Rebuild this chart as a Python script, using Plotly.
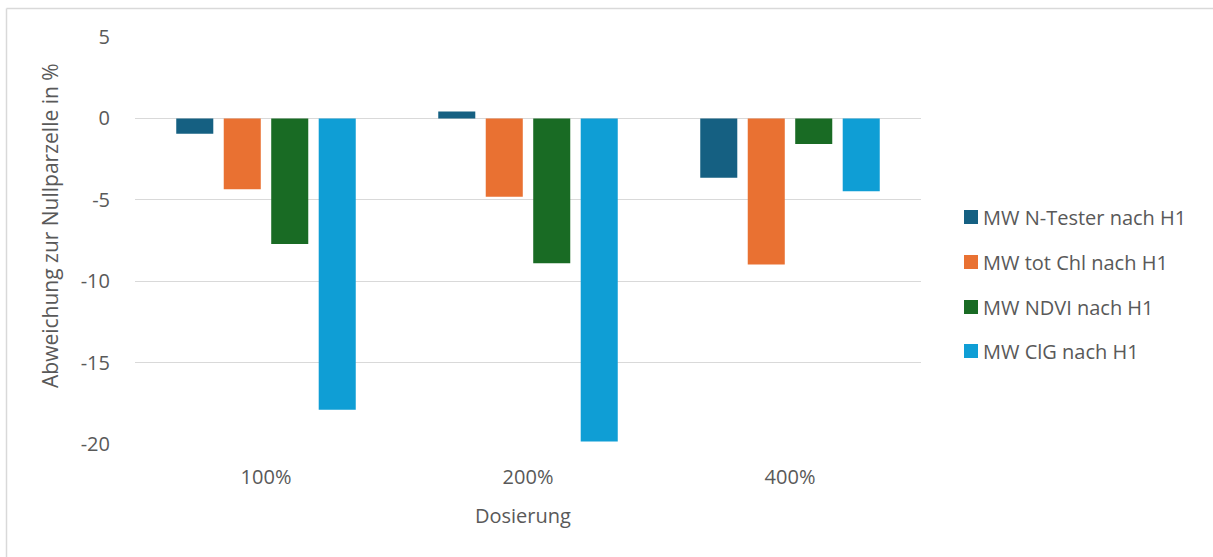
import plotly.graph_objects as go

# Data
categories = ["100%", "200%", "400%"]
series_names = ["MW N-Tester nach H1", "MW tot Chl nach H1", "MW NDVI nach H1", "MW ClG nach H1"]
n_tester = [-0.95, 0.43, -3.65]
tot_chl = [-4.35, -4.82, -8.98]
ndvi = [-7.72, -8.9, -1.57]
clg = [-17.9, -19.85, -4.47]
y_ticks = [5, 0, -5, -10, -15, -20]
y_tick_labels = ["5", "0", "-5", "-10", "-15", "-20"]

series_values = [n_tester, tot_chl, ndvi, clg]
colors = ["#156082", "#E97132", "#196B24", "#0F9ED5"]

W, H = 1213, 557
L, R, T, B = 135, 292, 37, 113
PW, PH = W - L - R, H - T - B
FONT = "Open Sans, Liberation Sans, Arial"
TXT = "#595959"


def px(x):
    return (x - L) / PW


def py(y):
    return (H - B - y) / PH


fig = go.Figure()
for name, vals, col in zip(series_names, series_values, colors):
    fig.add_trace(go.Bar(
        x=categories, y=vals, name=name,
        marker=dict(color=col, line=dict(width=0)),
        showlegend=False,
    ))

shapes = [
    # chart frame (top and left edges)
    dict(type="line", xref="paper", yref="paper",
         x0=px(6.5), x1=px(1213), y0=py(8.5), y1=py(8.5),
         line=dict(color="#d9d9d9", width=1.5), layer="below"),
    dict(type="line", xref="paper", yref="paper",
         x0=px(6.5), x1=px(6.5), y0=py(8.5), y1=py(557),
         line=dict(color="#d9d9d9", width=1.5), layer="below"),
]
annotations = [
    dict(text="Dosierung", xref="paper", yref="paper", x=px(523), y=py(515),
         xanchor="center", yanchor="middle", showarrow=False,
         font=dict(family=FONT, size=20, color=TXT)),
    dict(text="Abweichung zur Nullparzelle in %", xref="paper", yref="paper",
         x=px(50), y=py(226), textangle=-90, xanchor="center", yanchor="middle",
         showarrow=False, font=dict(family=FONT, size=21, color=TXT)),
]

# legend drawn as swatches with labels
legend_rows = [217, 262, 307, 351]
for name, col, yc in zip(series_names, colors, legend_rows):
    shapes.append(dict(type="rect", xref="paper", yref="paper",
                       x0=px(964), x1=px(978), y0=py(yc + 7), y1=py(yc - 7),
                       fillcolor=col, line=dict(width=0)))
    annotations.append(dict(text=name, xref="paper", yref="paper",
                            x=px(981), y=py(yc), xanchor="left", yanchor="middle",
                            showarrow=False, font=dict(family=FONT, size=20, color=TXT)))

fig.update_layout(
    width=W, height=H,
    margin=dict(l=L, r=R, t=T, b=B),
    paper_bgcolor="white", plot_bgcolor="white",
    barmode="group", bargap=0.275, bargroupgap=0.22,
    font=dict(family=FONT, size=20, color=TXT),
    shapes=shapes, annotations=annotations,
    xaxis=dict(showgrid=False, showline=False, ticks="",
               ticklabelstandoff=19,
               tickfont=dict(family=FONT, size=20, color=TXT)),
    yaxis=dict(range=[-20, 5], tickvals=y_ticks, ticktext=y_tick_labels,
               showgrid=True, gridcolor="#d9d9d9", gridwidth=1,
               zeroline=True, zerolinecolor="#d9d9d9", zerolinewidth=1,
               showline=False, ticks="", ticklabelstandoff=24,
               tickfont=dict(family=FONT, size=20, color=TXT)),
)

fig.write_html("out.html")
